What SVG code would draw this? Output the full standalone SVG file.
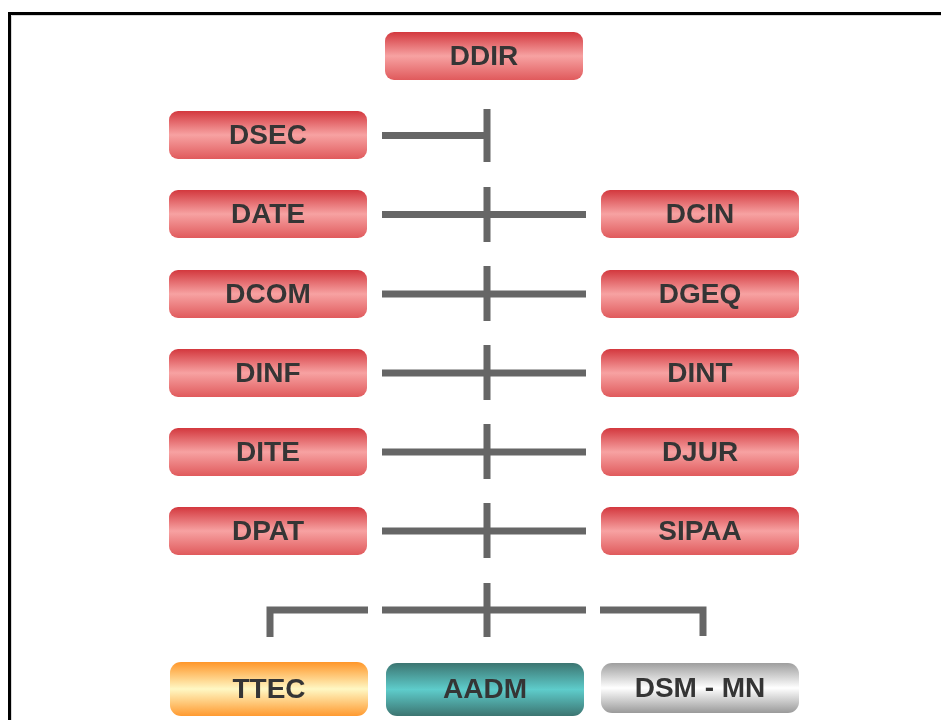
<svg xmlns="http://www.w3.org/2000/svg" width="941" height="720" viewBox="0 0 941 720">
<defs>
<linearGradient id="gRed" x1="0" y1="0" x2="0" y2="1">
<stop offset="0" stop-color="#d3383e"/>
<stop offset="0.5" stop-color="#f7a2a2"/>
<stop offset="1" stop-color="#e05a5c"/>
</linearGradient>
<linearGradient id="gOrange" x1="0" y1="0" x2="0" y2="1">
<stop offset="0" stop-color="#ff9629"/>
<stop offset="0.5" stop-color="#fff8c4"/>
<stop offset="1" stop-color="#ff9a30"/>
</linearGradient>
<linearGradient id="gTeal" x1="0" y1="0" x2="0" y2="1">
<stop offset="0" stop-color="#3c7571"/>
<stop offset="0.5" stop-color="#5ecccb"/>
<stop offset="1" stop-color="#3c7571"/>
</linearGradient>
<linearGradient id="gGray" x1="0" y1="0" x2="0" y2="1">
<stop offset="0" stop-color="#9e9e9e"/>
<stop offset="0.5" stop-color="#ffffff"/>
<stop offset="1" stop-color="#9a9a9a"/>
</linearGradient>
<filter id="soft" x="-5%" y="-15%" width="110%" height="130%">
<feGaussianBlur stdDeviation="0.6"/>
</filter>
</defs>
<style>
.box{stroke:none;}
.red{fill:url(#gRed);}
.lbl{font-family:"Liberation Sans",Arial,sans-serif;font-weight:bold;font-size:28px;fill:#363636;text-anchor:middle;filter:url(#soft);}
.conn{stroke:#666666;stroke-width:7;fill:none;stroke-linecap:butt;}
</style>
<rect x="0" y="0" width="941" height="720" fill="#ffffff"/>
<path d="M9.5 720 V13.5 H941" fill="none" stroke="#000000" stroke-width="3"/>
<path d="M11.5 720 V15.5 H941" fill="none" stroke="#d8d8d8" stroke-width="1"/>

<g id="connectors">
<path class="conn" d="M382 135.5 H487 M487 109 V162"/>
<path class="conn" d="M382 214.5 H586 M487 187 V242"/>
<path class="conn" d="M382 294 H586 M487 266 V321"/>
<path class="conn" d="M382 373 H586 M487 345 V400"/>
<path class="conn" d="M382 452 H586 M487 424 V479"/>
<path class="conn" d="M382 531 H586 M487 503 V558"/>
<path class="conn" d="M382 610 H586 M487 583 V637"/>
<path class="conn" d="M368 610 H270 V637"/>
<path class="conn" d="M600 610 H703 V636"/>
</g>

<g id="DDIR"><rect class="box red" x="385" y="32" width="198" height="48" rx="9"/><text class="lbl" x="484" y="65">DDIR</text></g>
<g id="DSEC"><rect class="box red" x="169" y="111" width="198" height="48" rx="9"/><text class="lbl" x="268" y="144">DSEC</text></g>
<g id="DATE"><rect class="box red" x="169" y="190" width="198" height="48" rx="9"/><text class="lbl" x="268" y="223">DATE</text></g>
<g id="DCIN"><rect class="box red" x="601" y="190" width="198" height="48" rx="9"/><text class="lbl" x="700" y="223">DCIN</text></g>
<g id="DCOM"><rect class="box red" x="169" y="270" width="198" height="48" rx="9"/><text class="lbl" x="268" y="303">DCOM</text></g>
<g id="DGEQ"><rect class="box red" x="601" y="270" width="198" height="48" rx="9"/><text class="lbl" x="700" y="303">DGEQ</text></g>
<g id="DINF"><rect class="box red" x="169" y="349" width="198" height="48" rx="9"/><text class="lbl" x="268" y="382">DINF</text></g>
<g id="DINT"><rect class="box red" x="601" y="349" width="198" height="48" rx="9"/><text class="lbl" x="700" y="382">DINT</text></g>
<g id="DITE"><rect class="box red" x="169" y="428" width="198" height="48" rx="9"/><text class="lbl" x="268" y="461">DITE</text></g>
<g id="DJUR"><rect class="box red" x="601" y="428" width="198" height="48" rx="9"/><text class="lbl" x="700" y="461">DJUR</text></g>
<g id="DPAT"><rect class="box red" x="169" y="507" width="198" height="48" rx="9"/><text class="lbl" x="268" y="540">DPAT</text></g>
<g id="SIPAA"><rect class="box red" x="601" y="507" width="198" height="48" rx="9"/><text class="lbl" x="700" y="540">SIPAA</text></g>

<g id="TTEC"><rect class="box" fill="url(#gOrange)" x="170" y="662" width="198" height="54" rx="11"/><text class="lbl" x="269" y="698">TTEC</text></g>
<g id="AADM"><rect class="box" fill="url(#gTeal)" x="386" y="663" width="198" height="53" rx="11"/><text class="lbl" x="485" y="698">AADM</text></g>
<g id="DSM-MN"><rect class="box" fill="url(#gGray)" x="601" y="663" width="198" height="50" rx="11"/><text class="lbl" x="700" y="697">DSM - MN</text></g>
</svg>
